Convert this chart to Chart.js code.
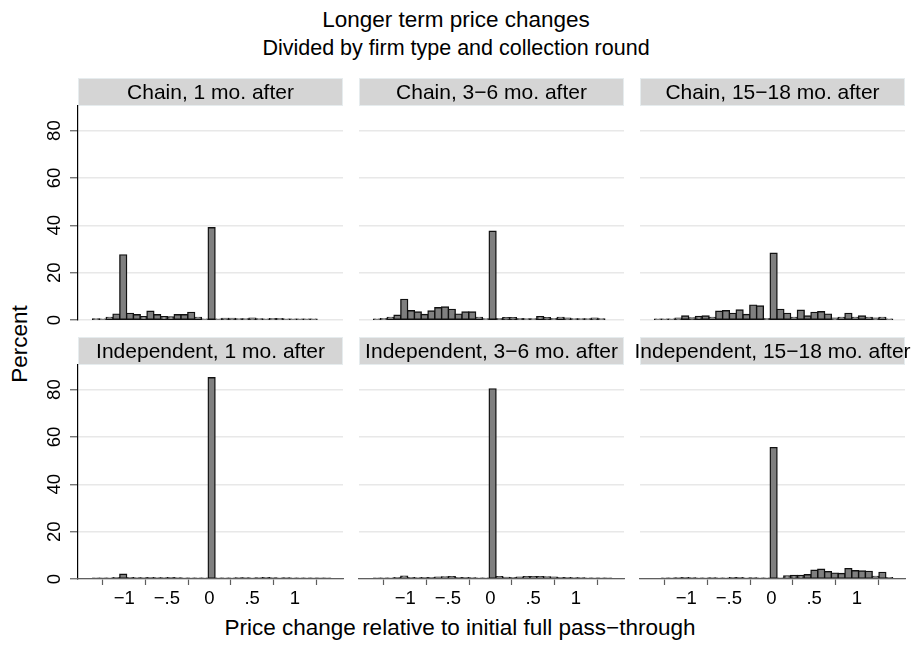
<!DOCTYPE html>
<html>
<head>
<meta charset="utf-8">
<script src="https://cdn.jsdelivr.net/npm/chart.js@4.4.1/dist/chart.umd.min.js"></script>
<style>
  html, body { margin: 0; padding: 0; background: #fff; }
  body { width: 912px; height: 648px; position: relative; overflow: hidden;
         font-family: "Liberation Sans", Arial, Helvetica, sans-serif; color: #000; }
  .txt { position: absolute; white-space: nowrap; line-height: 1; }
  canvas { position: absolute; }
</style>
</head>
<body>
<div class="txt" id="mainTitle" style="font-size:22.5px; left:456px; top:9px; transform:translateX(-50%);">Longer term price changes</div>
<div class="txt" id="subTitle" style="font-size:21.5px; left:456px; top:38px; transform:translateX(-50%);">Divided by firm type and collection round</div>
<div class="txt" id="yTitle" style="font-size:22.5px; left:20px; top:344px; transform:translate(-50%,-50%) rotate(-90deg);">Percent</div>
<div class="txt" id="xTitle" style="font-size:22.5px; left:460px; top:617px; transform:translateX(-50%);">Price change relative to initial full pass−through</div>

<canvas id="p0"></canvas><canvas id="p1"></canvas><canvas id="p2"></canvas>
<canvas id="p3"></canvas><canvas id="p4"></canvas><canvas id="p5"></canvas>

<script>
// Histogram bins shared by every panel: left edge of the first bin and bin width
const binStart = -1.37;
const binWidth = 0.0797;

// Panel labels (firm type × collection round)
const panelLabels = [
  "Chain, 1 mo. after", "Chain, 3−6 mo. after", "Chain, 15−18 mo. after",
  "Independent, 1 mo. after", "Independent, 3−6 mo. after", "Independent, 15−18 mo. after"
];

// Percent of observations in each bin
const chain1mo = [0.4, 0.3, 1.1, 2.5, 27.5, 2.8, 2.2, 1.4, 3.7, 2.2, 1.4, 1.3, 2.2, 2.2, 3.2, 1.1, 0.3,
  39.0, 0.3, 0.7, 0.7, 0.4, 0.4, 0.8, 0.4, 0.3, 0.5, 0.5, 0.3, 0.3, 0.3, 0.3, 0.3];
const chain3to6mo = [0.3, 0.5, 1.1, 2.0, 8.7, 3.9, 3.4, 2.3, 3.8, 5.2, 5.5, 4.5, 2.5, 3.4, 3.4, 1.1, 0.4,
  37.5, 0.6, 1.0, 1.0, 0.6, 0.4, 0.4, 1.4, 1.0, 0.5, 1.1, 0.8, 0.4, 0.4, 0.4, 0.8, 0.4];
const chain15to18mo = [0.3, 0.3, 0.3, 0.8, 1.7, 0.9, 1.5, 1.7, 1.1, 3.7, 3.9, 2.8, 4.2, 2.3, 6.3, 5.9, 0.6,
  28.2, 4.5, 2.8, 1.1, 4.1, 1.7, 3.2, 3.5, 2.5, 0.8, 1.1, 2.8, 1.1, 1.7, 1.1, 0.8, 1.1, 0.3];
const indep1mo = [0.2, 0.2, 0.3, 0.5, 2.0, 0.5, 0.4, 0.4, 0.5, 0.4, 0.4, 0.6, 0.4, 0.3, 0.3, 0.3, 0.3,
  85.0, 0.3, 0.3, 0.3, 0.4, 0.4, 0.3, 0.4, 0.5, 0.4, 0.3, 0.4, 0.3, 0.3, 0.3, 0.3, 0.2, 0.2];
const indep3to6mo = [0.2, 0.3, 0.3, 0.6, 1.2, 0.5, 0.4, 0.5, 0.6, 0.8, 0.9, 1.0, 0.6, 0.5, 0.4, 0.3, 0.3,
  80.3, 1.0, 0.7, 0.5, 0.8, 1.0, 1.0, 1.0, 0.9, 0.8, 0.6, 0.5, 0.4, 0.4, 0.3, 0.3, 0.3, 0.2];
const indep15to18mo = [0.0, 0.3, 0.3, 0.4, 0.5, 0.4, 0.3, 0.3, 0.4, 0.3, 0.3, 0.5, 0.5, 0.3, 0.4, 0.3, 0.3,
  55.5, 0.2, 1.3, 1.5, 1.5, 1.8, 3.7, 4.1, 3.1, 2.5, 2.3, 4.4, 3.5, 3.4, 3.2, 1.1, 2.8, 0.6];

const panelValues = [chain1mo, chain3to6mo, chain15to18mo, indep1mo, indep3to6mo, indep15to18mo];

// Axis ticks
const xTickValues = [-1, -0.5, 0, 0.5, 1];
const xTickLabels = ["−1", "−.5", "0", ".5", "1"];
const yTickValues = [0, 20, 40, 60, 80];
const yTickLabels = ["0", "20", "40", "60", "80"];

// ---- layout ----
const FONT = '"Liberation Sans", Arial, Helvetica, sans-serif';
const xMin = -1.5416, xMax = 1.565, yMax = 90.4;
const plotW = 265, plotH = 214, stripH = 28;
const colLeft = [78, 359, 640];
const stripTop = [78, 337];
const yAxisW = 45, xAxisH = 36, sidePad = 14, bottomPad = 10;
const outline = 1.4;

// grey title strip above each panel, spanning the plot width
const facetStrip = {
  id: 'facetStrip',
  beforeDraw(chart, args, opts) {
    const { ctx, chartArea } = chart;
    const w = chartArea.right - chartArea.left;
    const top = chartArea.top - opts.height;
    ctx.save();
    ctx.fillStyle = opts.fill;
    ctx.fillRect(chartArea.left, top, w, opts.height);
    ctx.strokeStyle = opts.edge;
    ctx.lineWidth = 1;
    ctx.strokeRect(chartArea.left + 0.5, top + 0.5, w - 1, opts.height - 1);
    ctx.fillStyle = '#000';
    ctx.font = opts.fontSize + 'px ' + FONT;
    ctx.textAlign = 'center';
    ctx.textBaseline = 'middle';
    ctx.fillText(opts.text, chartArea.left + w / 2, top + opts.height / 2 + 1);
    ctx.restore();
  }
};

function buildPanel(idx) {
  const row = Math.floor(idx / 3), col = idx % 3;
  const canvas = document.getElementById('p' + idx);
  const padL = col === 0 ? 0 : sidePad;
  const padR = sidePad;
  const yW = col === 0 ? yAxisW : 0;
  const xH = row === 1 ? xAxisH : 0;
  const padB = row === 1 ? 2 : bottomPad;
  const w = plotW + padL + padR + yW;
  const h = stripH + plotH + xH + padB;
  canvas.width = w; canvas.height = h;
  canvas.style.width = w + 'px'; canvas.style.height = h + 'px';
  canvas.style.left = (colLeft[col] - yW - padL) + 'px';
  canvas.style.top = stripTop[row] + 'px';

  const values = panelValues[idx];
  const points = values.map((v, i) => ({ x: binStart + (i + 0.5) * binWidth, y: v }));

  new Chart(canvas, {
    type: 'bar',
    data: {
      datasets: [{
        data: points,
        backgroundColor: '#7f7f7f',
        borderColor: '#111',
        borderWidth: outline,
        borderSkipped: false,
        barPercentage: 1,
        categoryPercentage: 1,
        // centre the outline on the bar edges
        inflateAmount: outline / 2
      }]
    },
    options: {
      responsive: false,
      animation: false,
      devicePixelRatio: 1,
      layout: { autoPadding: false, padding: { top: stripH, left: padL, right: padR, bottom: padB } },
      plugins: {
        legend: { display: false },
        tooltip: { enabled: false },
        facetStrip: { text: panelLabels[idx], height: stripH, fill: '#d5d5d5', edge: '#e6ecee', fontSize: 21 }
      },
      scales: {
        x: {
          type: 'linear', min: xMin, max: xMax, offset: false,
          afterBuildTicks: s => { s.ticks = xTickValues.map(v => ({ value: v })); },
          afterFit: s => { s.height = xH; s.paddingLeft = 0; s.paddingRight = 0; },
          grid: { display: row === 1, drawOnChartArea: false, drawTicks: true, tickLength: 6,
                  tickColor: '#5f5f5f', tickWidth: 1.2 },
          border: { display: row === 1, color: '#5f5f5f', width: 1.2, z: 1 },
          ticks: {
            display: row === 1, autoSkip: false, maxRotation: 0, minRotation: 0, padding: 3,
            color: '#000', font: { family: FONT, size: 18.5 },
            callback: (v, i) => xTickLabels[i]
          }
        },
        y: {
          type: 'linear', min: 0, max: yMax,
          afterBuildTicks: s => { s.ticks = yTickValues.map(v => ({ value: v })); },
          afterFit: s => { s.width = yW; s.paddingTop = 0; s.paddingBottom = 0; },
          grid: { color: '#e8e8e8', lineWidth: 1.5, drawTicks: col === 0, tickLength: 8,
                  tickColor: '#5f5f5f', tickWidth: 1.2 },
          border: { display: col === 0, color: '#000', width: 1.2 },
          ticks: {
            display: col === 0, minRotation: 90, maxRotation: 90, crossAlign: 'center', padding: 5,
            color: '#000', font: { family: FONT, size: 18.5 },
            callback: (v, i) => yTickLabels[i]
          }
        }
      }
    },
    plugins: [facetStrip]
  });
}

for (let i = 0; i < 6; i++) buildPanel(i);
</script>
</body>
</html>
